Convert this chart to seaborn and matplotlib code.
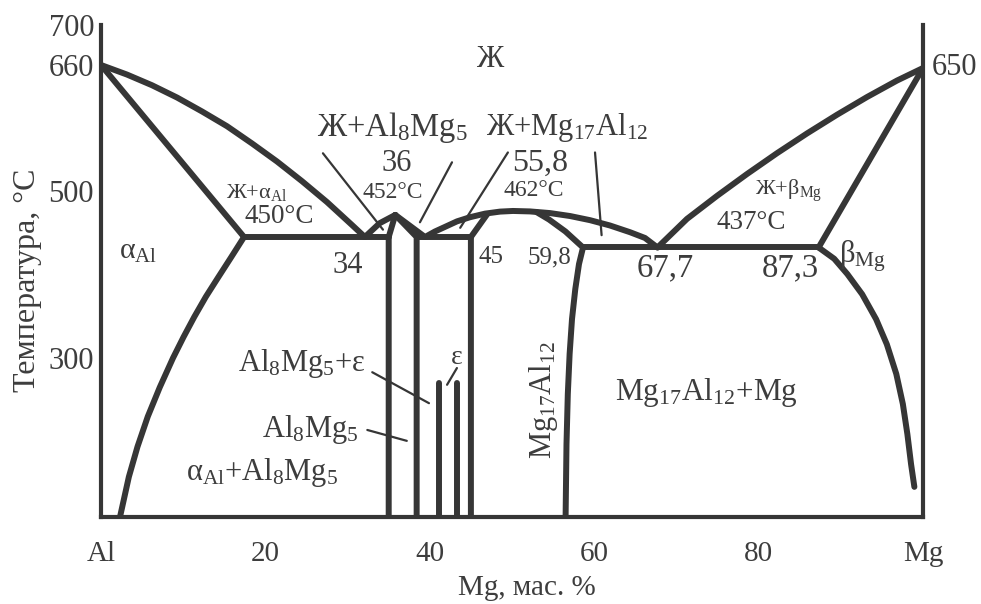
import numpy as np
import pandas as pd
import matplotlib
matplotlib.use("Agg")
import matplotlib.pyplot as plt
import matplotlib.transforms as mtransforms
import seaborn as sns

# ---------------- data (Mg, wt.% ; temperature, °C) ----------------
al_liquidus_mg = [0, 3.16, 6.20, 9.25, 12.29, 15.33, 18.37, 21.41, 24.45, 27.49,
                  30.54, 32.1, 33.9, 35.8]
al_liquidus_t = [660, 642, 629, 614, 597, 579, 558, 536, 512, 488,
                 463, 450, 465, 474]
al_solidus_mg = [0, 17.4]
al_solidus_t = [660, 450]
eut450_left_mg = [17.4, 35.0]
eut450_left_t = [450, 450]
al_solvus_mg = [17.4, 15.84, 14.26, 12.76, 11.35, 10.04, 8.76, 7.15, 5.69, 4.44, 3.39, 2.31]
al_solvus_t = [450, 425, 400, 376, 351, 326, 300, 265, 230, 194, 158, 110]
al8mg5_left_mg = [35.0, 35.0, 35.8]
al8mg5_left_t = [110, 450, 474]
al8mg5_right_mg = [38.4, 38.4, 35.8]
al8mg5_right_t = [110, 450, 474]
mid_liquidus_mg = [35.8, 39.42, 40.63, 41.85, 43.31, 44.89, 46.72, 48.54, 50.12,
                   52.19, 54.62, 57.06, 59.49, 61.92, 64.36, 66.18, 67.7]
mid_liquidus_t = [474, 450, 456, 461, 467, 471.5, 475.4, 477.6, 478.3,
                  477.8, 476, 472.8, 468.3, 462.5, 455.2, 448.8, 437]
eut450_mid_mg = [38.4, 45.0]
eut450_mid_t = [450, 450]
mg17_left_mg = [45.0, 45.0, 47.0]
mg17_left_t = [110, 450, 475]
mg17_right_mg = [53.0, 54.5, 56.5, 58.64, 58.15, 57.70, 57.30, 57.01, 56.79, 56.63, 56.52]
mg17_right_t = [477, 469, 456, 437, 416.5, 385.5, 348.3, 305, 257, 197.2, 110]
eut437_mg = [58.6, 87.3]
eut437_t = [437, 437]
mg_liquidus_mg = [67.7, 71.29, 74.94, 78.59, 82.24, 85.89, 89.54, 93.19, 96.84, 100]
mg_liquidus_t = [437, 469.7, 494.7, 520.7, 546.1, 570.2, 593.0, 614.6, 634.7, 650]
mg_solidus_mg = [87.3, 100]
mg_solidus_t = [437, 650]
mg_solvus_mg = [87.3, 89.2, 90.8, 92.6, 94.3, 95.6, 96.75, 97.55, 98.1, 98.55, 98.95]
mg_solvus_t = [437, 423, 404, 379, 348, 317, 281, 245, 209, 173, 146]
eps1_mg = [41.1, 41.1]
eps1_t = [110, 270]
eps2_mg = [43.3, 43.3]
eps2_t = [110, 270]

x_ticks = [20, 60, 80]
x_ticks_unmarked = [0, 40, 100]
x_unmarked_labels = ["Al", "40", "Mg"]
y_ticks = [300, 500]
y_ticks_unmarked = [660, 700]

# leader lines: (x0, t0, x1, t1)
pointers = [
    (27.0, 546, 34.3, 458),
    (42.7, 535, 38.8, 466),
    (49.5, 547, 43.7, 460),
    (60.1, 547, 60.9, 452),
    (33.0, 283, 39.9, 246),
    (32.4, 214, 37.2, 201),
    (43.3, 288, 42.1, 268),
]

curves = {
    "al_liquidus": (al_liquidus_mg, al_liquidus_t),
    "al_solidus": (al_solidus_mg, al_solidus_t),
    "eut450_left": (eut450_left_mg, eut450_left_t),
    "al_solvus": (al_solvus_mg, al_solvus_t),
    "al8mg5_left": (al8mg5_left_mg, al8mg5_left_t),
    "al8mg5_right": (al8mg5_right_mg, al8mg5_right_t),
    "mid_liquidus": (mid_liquidus_mg, mid_liquidus_t),
    "eut450_mid": (eut450_mid_mg, eut450_mid_t),
    "mg17_left": (mg17_left_mg, mg17_left_t),
    "mg17_right": (mg17_right_mg, mg17_right_t),
    "eut437": (eut437_mg, eut437_t),
    "mg_liquidus": (mg_liquidus_mg, mg_liquidus_t),
    "mg_solidus": (mg_solidus_mg, mg_solidus_t),
    "mg_solvus": (mg_solvus_mg, mg_solvus_t),
    "eps1": (eps1_mg, eps1_t),
    "eps2": (eps2_mg, eps2_t),
}
rows = []
for name, (xs, ts) in curves.items():
    for i, (x, t) in enumerate(zip(xs, ts)):
        rows.append({"curve": name, "order": i, "mg": x, "t": t})
df = pd.DataFrame(rows)

# ---------------- style ----------------
LINE = "#363636"
TXT = "#3d3d3d"
sns.set_theme(style="white")
plt.rcParams["font.family"] = ["Liberation Serif", "DejaVu Serif"]
plt.rcParams["mathtext.fontset"] = "custom"
plt.rcParams["mathtext.rm"] = "Liberation Serif"
plt.rcParams["text.color"] = TXT
plt.rcParams["xtick.color"] = LINE
plt.rcParams["ytick.color"] = LINE
plt.rcParams["xtick.labelcolor"] = TXT
plt.rcParams["ytick.labelcolor"] = TXT

fig = plt.figure(figsize=(9.81, 6.04), dpi=100)
ax = fig.add_axes([101 / 981, (604 - 517) / 604, 822 / 981, 492 / 604])

sns.lineplot(data=df, x="mg", y="t", units="curve", estimator=None, sort=False,
             color=LINE, linewidth=4.3, solid_capstyle="round",
             solid_joinstyle="round", ax=ax, legend=False)

# schematic (non-uniform) temperature axis of the original drawing
_Tk = np.array([-5000, 110, 300, 450, 500, 650, 660, 700, 5000], dtype=float)
_Pk = np.array([517 + 5110 * 0.837, 517, 358, 237, 191, 68, 65, 25, 25 - 4300], dtype=float)


def _fwd(t):
    return np.interp(t, _Tk, -_Pk)


def _inv(v):
    return np.interp(v, -_Pk, _Tk)


ax.set_yscale("function", functions=(_fwd, _inv))
ax.set_xlim(0, 100)
ax.set_ylim(110, 700)

for x0, t0, x1, t1 in pointers:
    ax.annotate("", xy=(x1, t1), xytext=(x0, t0),
                arrowprops=dict(arrowstyle="-", lw=1.6, color=LINE,
                                shrinkA=0, shrinkB=0))

# spines
for s in ["left", "bottom", "right"]:
    ax.spines[s].set_visible(True)
    ax.spines[s].set_linewidth(3.0)
    ax.spines[s].set_color(LINE)
ax.spines["top"].set_visible(False)

# ticks
ax.set_xticks(x_ticks)
ax.set_xticklabels([str(v) for v in x_ticks])
ax.set_xticks(x_ticks_unmarked, minor=True)
ax.set_xticklabels(x_unmarked_labels, minor=True)
ax.set_yticks(y_ticks)
ax.set_yticklabels([str(v) for v in y_ticks])
ax.set_yticks(y_ticks_unmarked, minor=True)
ax.set_yticklabels([str(v) for v in y_ticks_unmarked], minor=True)
ax.tick_params(axis="x", which="major", direction="in", length=14, width=2.2,
               pad=17, labelsize=21)
ax.tick_params(axis="x", which="minor", direction="in", length=0, pad=17,
               labelsize=21)
ax.tick_params(axis="y", which="major", direction="in", length=18, width=2.2,
               pad=5, labelsize=22)
ax.tick_params(axis="y", which="minor", direction="in", length=0, pad=5,
               labelsize=22)

ax.set_xlabel("Mg, мас. %", fontsize=21, color=TXT)
ax.set_ylabel("Температура, °C", fontsize=23, color=TXT)
ax.xaxis.set_label_coords(0.518, -0.118)
ax.yaxis.set_label_coords(-0.072, 0.482)

# right-hand temperature mark
trans_r = mtransforms.blended_transform_factory(ax.transAxes, ax.transData)
ax.text(1.011, 650, "650", transform=trans_r, ha="left", va="center",
        fontsize=22, color=TXT)


def lab(x, t, s, size, **kw):
    kw.setdefault("ha", "center")
    kw.setdefault("va", "center")
    ax.text(x, t, s, fontsize=size, color=TXT, **kw)


S8 = "$\\mathregular{_8}$"
S5 = "$\\mathregular{_5}$"
S17 = "$\\mathregular{_{17}}$"
S12 = "$\\mathregular{_{12}}$"

lab(47.3, 665, "Ж", 22)
lab(35.4, 577, "Ж+Al" + S8 + "Mg" + S5, 23.5)
lab(56.7, 577, "Ж+Mg" + S17 + "Al" + S12, 22)
lab(36.0, 534, "36", 22)
lab(53.4, 534, "55,8", 23)
lab(35.5, 498, "452°C", 17)
lab(52.7, 500, "462°C", 17)
lab(18.9, 498, "Ж+α$\\mathregular{_{Al}}$", 16)
lab(21.7, 472, "450°C", 19.5)
lab(4.5, 431, "α$\\mathregular{_{Al}}$", 21.5)
lab(30.0, 415, "34", 22)
lab(47.4, 425, "45", 18)
lab(54.6, 425, "59,8", 18)
lab(68.6, 412, "67,7", 23.5)
lab(83.8, 412, "87,3", 23.5)
lab(83.6, 500, "Ж+β$\\mathregular{_{Mg}}$", 16)
lab(79.1, 466, "437°C", 19.5)
lab(92.6, 426, "β$\\mathregular{_{Mg}}$", 22)
lab(32.1, 293, "Al" + S8 + "Mg" + S5 + "+ε", 22, ha="right")
lab(31.3, 214, "Al" + S8 + "Mg" + S5, 22, ha="right")
lab(19.6, 163, "α$\\mathregular{_{Al}}$+Al" + S8 + "Mg" + S5, 22)
lab(43.3, 300, "ε", 20)
lab(53.8, 250, "Mg" + S17 + "Al" + S12, 22, rotation=90)
lab(73.6, 259, "Mg" + S17 + "Al" + S12 + "+Mg", 22.5)

fig.savefig("out.png", dpi=100, facecolor="white")
